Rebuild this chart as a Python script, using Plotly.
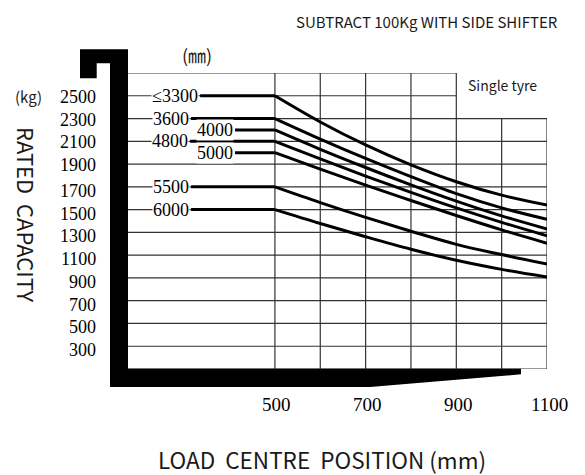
import plotly.graph_objects as go

# ---------------- data ----------------
load_centre = [500, 600, 700, 800, 900, 1000, 1100]          # mm
lift_labels = ["≤3300", "3600", "4000", "4800", "5000", "5500", "6000"]
cap_3300 = [2500, 2270, 2068, 1893, 1745, 1627, 1540]
cap_3600 = [2300, 2120, 1950, 1790, 1640, 1515, 1415]
cap_4000 = [2200, 2030, 1870, 1718, 1575, 1445, 1330]
cap_4800 = [2100, 1945, 1795, 1652, 1515, 1388, 1270]
cap_5000 = [2000, 1855, 1715, 1580, 1448, 1322, 1205]
cap_5500 = [1700, 1562, 1432, 1310, 1195, 1105, 1022]
cap_6000 = [1500, 1378, 1262, 1152, 1055, 975, 908]
lead_start = [335, 315, 412, 313, 412, 315, 315]             # mm, where flat lead-in begins
y_tick_vals = [2500, 2300, 2100, 1900, 1700, 1500, 1300, 1100, 900, 700, 500, 300]
x_tick_vals = [500, 700, 900, 1100]
series = [cap_3300, cap_3600, cap_4000, cap_4800, cap_5000, cap_5500, cap_6000]

# ---------------- geometry ----------------
W, H = 585, 475
ML, MR, MT, MB = 128, 38, 73, 106
PW, PH = W - ML - MR, H - MT - MB
X_RANGE = [176, 1100]
Y_RANGE = [100, 2700]


def P(px, py):
    """pixel -> paper coordinates"""
    return (px - ML) / PW, (H - MB - py) / PH


fig = go.Figure()

# curves
for lab, ys, xs0 in zip(lift_labels, series, lead_start):
    fig.add_trace(go.Scatter(x=[xs0, load_centre[0]], y=[ys[0], ys[0]], mode="lines",
                             line=dict(color="black", width=3), hoverinfo="skip"))
    fig.add_trace(go.Scatter(x=load_centre, y=ys, mode="lines",
                             line=dict(color="black", width=3, shape="spline", smoothing=1.0),
                             name=lab))
    fig.add_annotation(x=xs0, y=ys[0], xref="x", yref="y", text=lab, showarrow=False,
                       xanchor="right", yanchor="middle", bgcolor="white", borderpad=0,
                       xshift=-1, font=dict(family="Liberation Serif", size=18, color="black"))

# grid (partial, as in the drawing)
shapes = []
grid_style = dict(color="#333333", width=1.2)
top_grid_right = 900
for v in range(100, 2701, 200):
    xr = top_grid_right if v >= 2500 else X_RANGE[1]
    shapes.append(dict(type="line", xref="x", yref="y", x0=X_RANGE[0], x1=xr, y0=v, y1=v,
                       line=grid_style, layer="below"))
for v in range(500, 1101, 100):
    yt = Y_RANGE[1] if v <= top_grid_right else 2300
    shapes.append(dict(type="line", xref="x", yref="y", x0=v, x1=v, y0=Y_RANGE[0], y1=yt,
                       line=grid_style, layer="below"))

# fork silhouette
fork_px = [(80, 49.3), (128, 49.3), (128, 368.7), (521, 368.7), (521, 374.3), (370, 387),
           (110, 387), (110, 63.3), (96.7, 63.3), (96.7, 78.3), (80, 78.3)]
pts = [P(a, b) for a, b in fork_px]
path = "M " + " L ".join(f"{x:.5f},{y:.5f}" for x, y in pts) + " Z"
shapes.append(dict(type="path", xref="paper", yref="paper", path=path,
                   fillcolor="black", line=dict(width=0), layer="above"))

# y tick labels
for v in y_tick_vals:
    fig.add_annotation(x=P(98, 0)[0], y=v, xref="paper", yref="y", text=str(v), showarrow=False,
                       xanchor="right", yanchor="middle", yshift=-1 if v >= 1900 else -4,
                       font=dict(family="Liberation Serif", size=18, color="black"))
# x tick labels
for v in x_tick_vals:
    fig.add_annotation(x=v, y=P(0, 404)[1], xref="x", yref="paper", text=str(v), showarrow=False,
                       xanchor="center", yanchor="middle", xshift=2,
                       font=dict(family="Liberation Serif", size=19, color="black"))

sans = "Noto Sans CJK SC"
texts = [
    ("SUBTRACT 100Kg WITH SIDE SHIFTER", 427, 21, 15, 0, sans),
    ("Single tyre", 502, 85, 14, 0, sans),
    ("(㎜)", 197, 55, 18, 0, sans),
    ("(kg)", 28, 97, 15, 0, sans),
    ("RATED  CAPACITY", 27, 215, 22, 90, sans),
    ("LOAD  CENTRE  POSITION (mm)", 322, 459, 22.5, 0, sans),
]
for t, px, py, sz, ang, fam in texts:
    x, y = P(px, py)
    fig.add_annotation(x=x, y=y, xref="paper", yref="paper", text=t, showarrow=False,
                       xanchor="center", yanchor="middle", textangle=ang,
                       font=dict(family=fam, size=sz, color="#1a1a1a"))

fig.update_layout(
    width=W, height=H, margin=dict(l=ML, r=MR, t=MT, b=MB, pad=0),
    paper_bgcolor="white", plot_bgcolor="white", showlegend=False,
    xaxis=dict(range=X_RANGE, visible=False, fixedrange=True),
    yaxis=dict(range=Y_RANGE, visible=False, fixedrange=True),
    shapes=shapes,
)
fig.write_html("out.html")
